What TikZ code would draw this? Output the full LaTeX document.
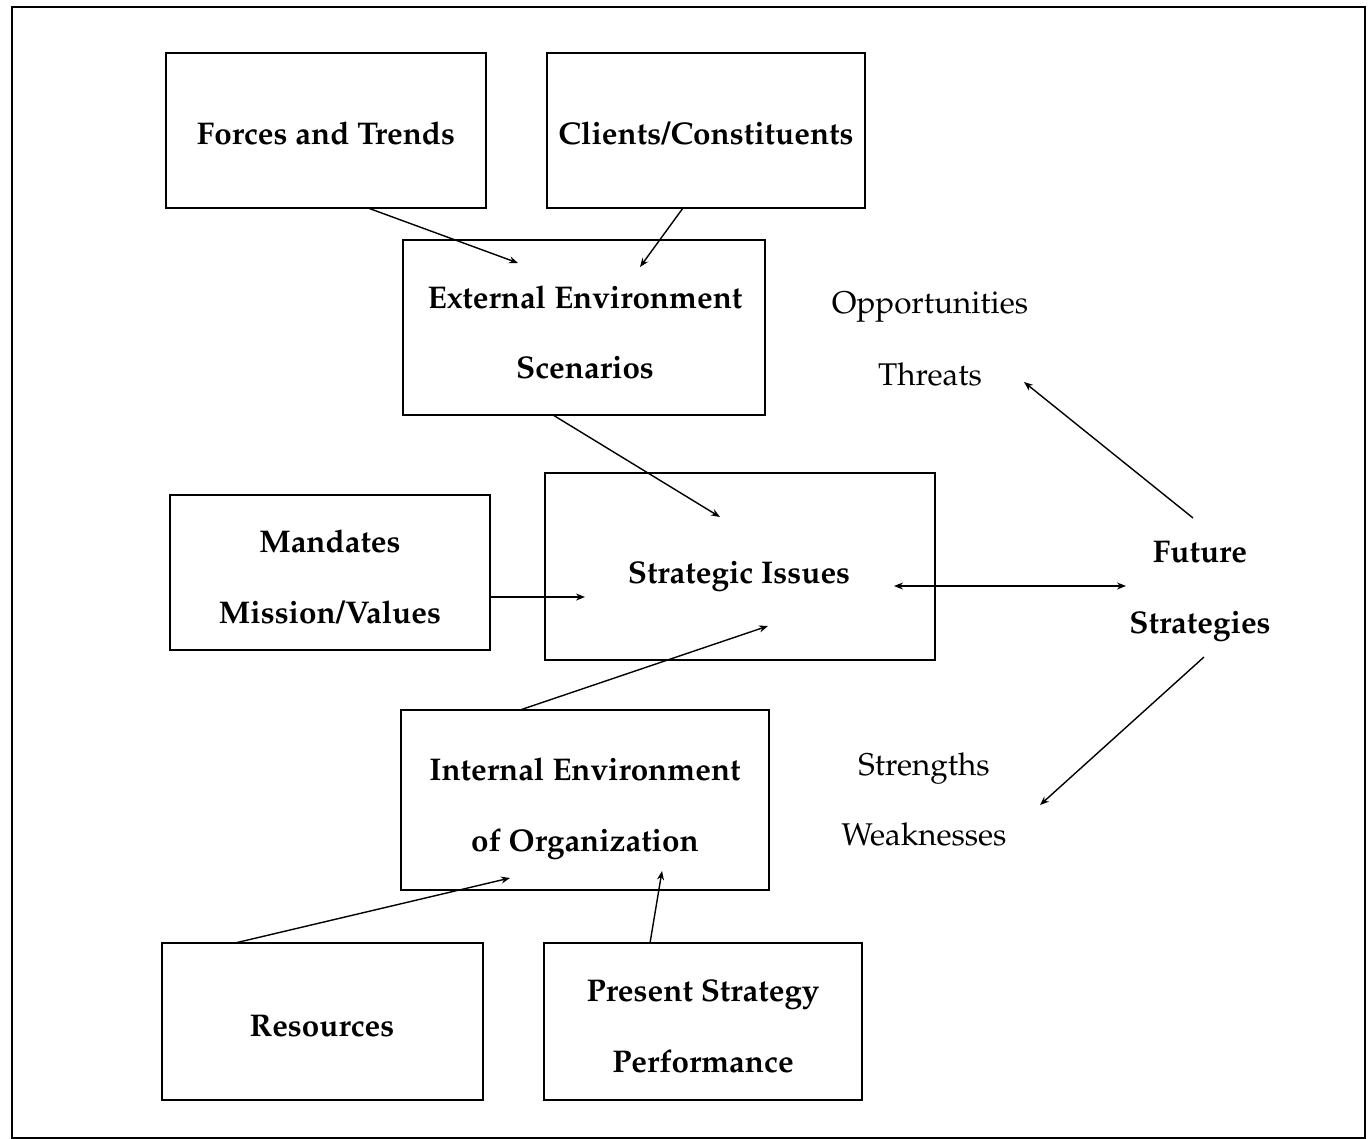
\documentclass[tikz,border=0pt]{standalone}
\usepackage[T1]{fontenc}
\usepackage{mathpazo}
\usetikzlibrary{arrows.meta,calc}
\begin{document}
\begin{tikzpicture}[x=0.5pt,y=-0.5pt,
  box/.style={draw,line width=1pt,inner sep=0pt,outer sep=0pt,anchor=north west},
  lbl/.style={font=\fontsize{15.7}{18}\selectfont\bfseries,text height=1.5ex,text depth=0.4ex,yshift=-2.5pt},
  plain/.style={font=\fontsize{15.7}{18}\selectfont,text height=1.5ex,text depth=0.4ex,yshift=-2.5pt},
  conn/.style={line width=0.7pt,-{Stealth[length=4.5pt,width=3.5pt]}},
  conn2/.style={line width=0.7pt,{Stealth[length=4.5pt,width=3.5pt]}-{Stealth[length=4.5pt,width=3.5pt]}}]
\useasboundingbox (0,0) rectangle (1369,1139);
\node[draw,line width=1.1pt,inner sep=0pt,anchor=north west,minimum width=676.5pt,minimum height=565.5pt] (frame) at (11,6) {};
% boxes
\node[box,minimum width=160pt,minimum height=77.5pt] (ft) at (166,53) {};
\node[box,minimum width=159pt,minimum height=77.5pt] (cc) at (547,53) {};
\node[box,minimum width=181pt,minimum height=87.5pt] (ee) at (403,240) {};
\node[box,minimum width=160pt,minimum height=77.5pt] (md) at (170,495) {};
\node[box,minimum width=195pt,minimum height=93.5pt] (si) at (545,473) {};
\node[box,minimum width=184pt,minimum height=90pt] (ie) at (401,710) {};
\node[box,minimum width=160.5pt,minimum height=78.5pt] (res) at (162,943) {};
\node[box,minimum width=159pt,minimum height=78.5pt] (ps) at (544,943) {};
% box texts
\node[lbl] (ftt) at (326,134) {Forces and Trends};
\node[lbl] (cct) at (706,134) {Clients/Constituents};
\node[lbl] (ee1) at (585,298) {External Environment};
\node[lbl] (ee2) at (585,368) {Scenarios};
\node[lbl] (m1) at (330,542) {Mandates};
\node[lbl] (m2) at (330,613) {Mission/Values};
\node[lbl] (sit) at (739,573) {Strategic Issues};
\node[lbl] (ie1) at (585,770) {Internal Environment};
\node[lbl] (ie2) at (585,841) {of Organization};
\node[lbl] (rest) at (322,1026) {Resources};
\node[lbl] (ps1) at (703,991) {Present Strategy};
\node[lbl] (ps2) at (703,1062) {Performance};
% free labels
\node[plain] (opp) at (930,303) {Opportunities};
\node[plain] (thr) at (930,375) {Threats};
\node[plain] (str) at (924,765) {Strengths};
\node[plain] (wea) at (924,835) {Weaknesses};
\node[lbl] (fs1) at (1200,552) {Future};
\node[lbl] (fs2) at (1200,623) {Strategies};
% connectors
\draw[conn] ($(ft.south west)+(202,0)$) -- ($(ee.north west)+(115,23)$);
\draw[conn] ($(cc.south west)+(136,0)$) -- ($(ee.north west)+(237,27)$);
\draw[conn] ($(ee.south west)+(150,0)$) -- ($(si.north west)+(175,44)$);
\draw[conn] ($(md.north east)+(0,102)$) -- ($(si.north west)+(40,124)$);
\draw[conn] ($(ie.north west)+(119,0)$) -- ($(si.north west)+(223,153)$);
\draw[conn2] ($(si.north west)+(349,113)$) -- ($(fs1)+(-74,29)$);
\draw[conn] ($(fs1)+(-7,-39)$) -- ($(thr)+(94,2)$);
\draw[conn] ($(fs2)+(4,29)$) -- ($(wea)+(116,-35)$);
\draw[conn] ($(res.north west)+(73,0)$) -- ($(ie.north west)+(109,168)$);
\draw[conn] ($(ps.north west)+(106,0)$) -- ($(ie.north west)+(261,161)$);
\end{tikzpicture}
\end{document}
